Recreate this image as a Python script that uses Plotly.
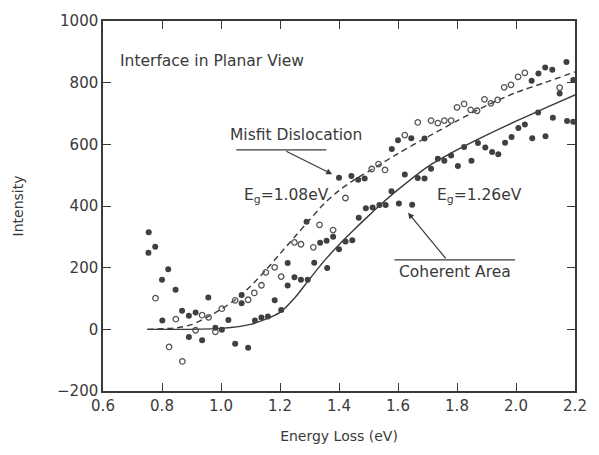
import plotly.graph_objects as go

# ---- data: Misfit Dislocation (open circles) ----
misfit_x = [0.778, 0.824, 0.869, 0.847, 0.936, 0.958, 0.914, 0.981, 1.003, 1.048, 1.092, 1.113,
            1.137, 1.152, 1.182, 1.204, 1.249, 1.271, 1.313, 1.334, 1.380, 1.422, 1.511, 1.534,
            1.556, 1.623, 1.667, 1.712, 1.735, 1.757, 1.780, 1.800, 1.824, 1.846, 1.868, 1.893,
            1.915, 1.938, 1.960, 1.983, 2.007, 2.030, 2.148]
misfit_y = [101, -57, -104, 33, 46, 39, -3, -8, 67, 94, 96, 118,
            143, 185, 201, 171, 282, 276, 266, 339, 322, 426, 520, 536,
            517, 630, 671, 677, 669, 677, 677, 720, 731, 712, 709, 746,
            733, 744, 785, 793, 819, 832, 784]

# ---- data: Coherent Area (filled dots) ----
coherent_x = [0.755, 0.754, 0.777, 0.800, 0.821, 0.846, 0.801, 0.868, 0.891, 0.914, 0.957, 0.891,
              0.936, 0.981, 1.003, 1.025, 1.070, 1.070, 1.048, 1.092, 1.115, 1.137, 1.159, 1.182,
              1.204, 1.226, 1.226, 1.249, 1.271, 1.294, 1.290, 1.316, 1.360, 1.336, 1.358, 1.380,
              1.400, 1.422, 1.445, 1.467, 1.491, 1.514, 1.537, 1.558, 1.578, 1.603, 1.623, 1.648,
              1.667, 1.690, 1.712, 1.735, 1.757, 1.780, 1.803, 1.824, 1.849, 1.871, 1.896, 1.919,
              1.940, 1.963, 1.985, 2.008, 2.030, 2.055, 2.075, 2.100, 2.125, 2.148, 2.173, 2.194,
              1.400, 1.442, 1.465, 1.487, 1.579, 1.600, 1.645, 1.690,
              2.053, 2.076, 2.099, 2.123, 2.171, 2.194]
coherent_y = [315, 248, 268, 161, 195, 128, 29, 60, 44, 55, 103, -25,
              -35, 5, -1, 30, 111, 85, -47, -60, 29, 38, 42, 94,
              63, 215, 142, 169, 161, 161, 349, 216, 199, 281, 287, 300,
              260, 285, 289, 362, 393, 395, 403, 403, 448, 408, 502, 404,
              491, 489, 521, 553, 547, 564, 530, 591, 547, 604, 590, 575,
              568, 605, 624, 653, 664, 620, 703, 626, 686, 765, 676, 673,
              492, 497, 485, 489, 585, 613, 620, 619,
              806, 830, 849, 842, 867, 809]

# ---- fitted curves ----
fit_misfit_x = [0.75, 0.85, 0.90, 0.95, 1.00, 1.05, 1.10, 1.15, 1.20, 1.25, 1.30, 1.35, 1.40,
                1.45, 1.50, 1.60, 1.70, 1.80, 1.90, 2.00, 2.10, 2.20]
fit_misfit_y = [0, 5, 15, 38, 65, 97, 140, 190, 245, 300, 355, 408, 450,
                484, 512, 570, 624, 676, 726, 768, 801, 835]
fit_coherent_x = [0.75, 0.90, 1.00, 1.10, 1.20, 1.25, 1.30, 1.35, 1.40, 1.45, 1.50, 1.55, 1.60,
                  1.70, 1.80, 1.90, 2.00, 2.10, 2.20]
fit_coherent_y = [0, 0, 3, 16, 55, 102, 163, 222, 274, 322, 368, 412, 453,
                  527, 582, 630, 675, 718, 760]

x_ticks = [0.6, 0.8, 1.0, 1.2, 1.4, 1.6, 1.8, 2.0, 2.2]
y_ticks = [-200, 0, 200, 400, 600, 800, 1000]

INK = "#3a3a3a"
FONT = "DejaVu Sans"

fig = go.Figure()
fig.add_trace(go.Scatter(x=fit_misfit_x, y=fit_misfit_y, mode="lines", line_shape="spline",
                         line=dict(color=INK, width=1.4, dash="6px,4px", smoothing=0.7), showlegend=False))
fig.add_trace(go.Scatter(x=fit_coherent_x, y=fit_coherent_y, mode="lines", line_shape="spline",
                         line=dict(color=INK, width=1.4, smoothing=0.7), showlegend=False))
fig.add_trace(go.Scatter(x=misfit_x, y=misfit_y, mode="markers",
                         marker=dict(symbol="circle-open", size=5.5, color="#555555",
                                     line=dict(width=1.3, color="#555555")), showlegend=False))
fig.add_trace(go.Scatter(x=coherent_x, y=coherent_y, mode="markers",
                         marker=dict(symbol="circle", size=6, color="#404040"), showlegend=False))

axis_common = dict(showgrid=False, zeroline=False, showline=True, linecolor=INK, linewidth=1.5,
                   mirror="ticks", ticks="inside", ticklen=8, tickwidth=1.2, tickcolor=INK,
                   tickfont=dict(family=FONT, size=15, color=INK))

fig.update_xaxes(range=[0.6, 2.2], tickvals=x_ticks, ticktext=[f"{v:.1f}" for v in x_ticks],
                 title=dict(text="Energy Loss (eV)", font=dict(family=FONT, size=14, color=INK), standoff=17),
                 **axis_common)
fig.update_yaxes(range=[-200, 1000], tickvals=y_ticks,
                 ticktext=[("\u2212" + str(-v)) if v < 0 else str(v) for v in y_ticks],
                 title=dict(text="Intensity", font=dict(family=FONT, size=14, color=INK), standoff=30),
                 **axis_common)

ann_font = dict(family=FONT, size=15.5, color=INK)
annotations = [
    dict(x=0.65, y=871, text="Interface in Planar View", showarrow=False, xanchor="left", font=ann_font),
    dict(x=1.253, y=629, text="Misfit Dislocation", showarrow=False, font=ann_font),
    dict(x=1.223, y=432, text="E<sub>g</sub>=1.08eV", showarrow=False, font=ann_font),
    dict(x=1.875, y=432, text="E<sub>g</sub>=1.26eV", showarrow=False, font=ann_font),
    dict(x=1.794, y=185, text="Coherent Area", showarrow=False, font=ann_font),
    dict(x=1.377, y=503, ax=1.216, ay=580, axref="x", ayref="y", text="", showarrow=True,
         arrowhead=2, arrowsize=1, arrowwidth=1.2, arrowcolor=INK),
    dict(x=1.634, y=378, ax=1.766, ay=225, axref="x", ayref="y", text="", showarrow=True,
         arrowhead=2, arrowsize=1, arrowwidth=1.2, arrowcolor=INK),
]
shapes = [
    dict(type="line", x0=1.052, x1=1.357, y0=582, y1=582, line=dict(color=INK, width=1.3)),
    dict(type="line", x0=1.588, x1=1.997, y0=225, y1=225, line=dict(color=INK, width=1.3)),
]

fig.update_layout(width=599, height=455, margin=dict(l=103, r=19, t=19, b=64),
                  plot_bgcolor="white", paper_bgcolor="white",
                  annotations=annotations, shapes=shapes)

fig.write_html("out.html")
